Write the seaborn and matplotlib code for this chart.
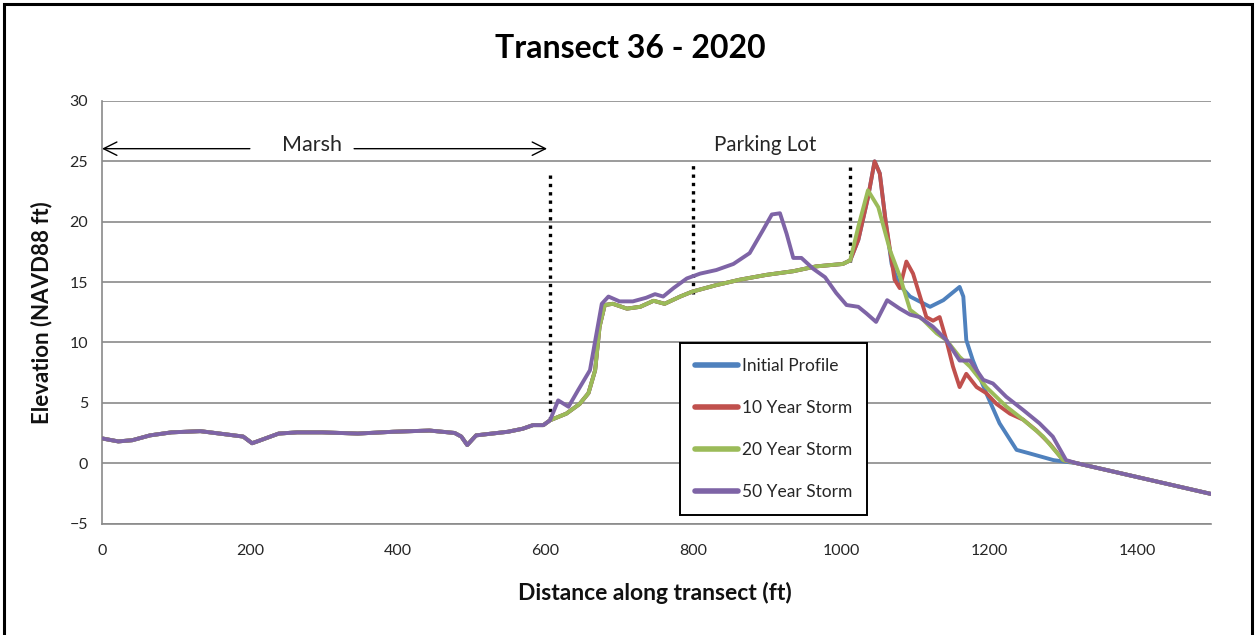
import numpy as np
import pandas as pd
import matplotlib
matplotlib.use("Agg")
import matplotlib.pyplot as plt
from matplotlib.patches import Rectangle
from matplotlib.lines import Line2D
import seaborn as sns

# ---- profile data (distance ft, elevation ft NAVD88) ----
# marsh segment shared by all profiles
marsh_x = [0, 22, 41, 65, 94, 133, 172, 191, 203, 210, 239, 264, 298, 346, 394,
           443, 477, 486, 494, 506, 549, 569, 583, 597, 606]
marsh_y = [2.05, 1.8, 1.9, 2.3, 2.55, 2.65, 2.35, 2.2, 1.65, 1.8, 2.45, 2.55, 2.55,
           2.45, 2.6, 2.7, 2.5, 2.2, 1.5, 2.3, 2.6, 2.85, 3.15, 3.15, 3.55]

# parking lot segment shared by initial, 10 yr and 20 yr profiles
lot_x = [628, 646, 658, 667, 673, 680, 691, 710, 728, 746, 761, 782, 798, 831,
         863, 899, 935, 966, 1002, 1012]
lot_y = [4.1, 4.9, 5.8, 7.7, 11.3, 13.1, 13.2, 12.8, 12.95, 13.45, 13.2, 13.8,
         14.2, 14.75, 15.2, 15.6, 15.9, 16.3, 16.5, 16.8]

# seaward slope shared by all profiles
tail_x = [1318, 1500]
tail_y = [0.0, -2.55]

# dune / beach segments
initial_x = [1023, 1036, 1045, 1052, 1060, 1068, 1078, 1093, 1120, 1138, 1160,
             1165, 1169, 1178, 1196, 1214, 1237, 1255, 1287, 1305]
initial_y = [18.5, 22.0, 25.0, 24.0, 20.0, 16.5, 14.8, 13.8, 12.95, 13.5, 14.6,
             13.8, 10.2, 8.5, 5.8, 3.3, 1.1, 0.8, 0.25, 0.1]

storm10_x = [1023, 1036, 1045, 1052, 1060, 1072, 1079, 1088, 1097, 1115, 1124,
             1133, 1142, 1151, 1160, 1169, 1183, 1196, 1210, 1228, 1246, 1264,
             1282, 1300]
storm10_y = [18.5, 22.0, 25.0, 24.0, 20.0, 15.2, 14.5, 16.7, 15.7, 12.1, 11.8,
             12.1, 10.2, 8.0, 6.3, 7.4, 6.3, 5.8, 4.9, 4.1, 3.6, 2.7, 1.6, 0.25]

storm20_x = [1023, 1036, 1050, 1066, 1079, 1093, 1111, 1129, 1142, 1160, 1174,
             1196, 1223, 1246, 1273, 1300]
storm20_y = [19.6, 22.6, 21.2, 17.6, 15.5, 12.7, 11.85, 10.75, 10.2, 8.8, 8.0,
             6.3, 4.7, 3.6, 2.2, 0.25]

storm50_x = [617, 631, 644, 660, 669, 676, 685, 700, 718, 736, 748, 759, 773,
             791, 809, 831, 854, 876, 894, 906, 917, 926, 935, 946, 962, 978,
             993, 1007, 1023, 1034, 1047, 1062, 1079, 1093, 1106, 1124, 1142,
             1160, 1174, 1192, 1205, 1223, 1246, 1268, 1286, 1304]
storm50_y = [5.2, 4.67, 6.05, 7.7, 10.8, 13.2, 13.8, 13.4, 13.4, 13.7, 14.0,
             13.8, 14.5, 15.3, 15.7, 16.0, 16.5, 17.4, 19.3, 20.6, 20.7, 19.0,
             17.0, 17.0, 16.1, 15.4, 14.1, 13.1, 12.95, 12.4, 11.7, 13.5, 12.8,
             12.3, 12.1, 11.3, 10.2, 8.5, 8.5, 6.9, 6.6, 5.5, 4.4, 3.3, 2.2, 0.25]

series_names = ["Initial Profile", "10 Year Storm", "20 Year Storm", "50 Year Storm"]
series_colors = ["#4F81BD", "#C0504D", "#9BBB59", "#7E64A6"]

# section boundary markers (distance, bottom elevation, top elevation)
divider_x = [606, 799, 1012]
divider_bottom = [3.55, 14.0, 16.7]
divider_top = [23.9, 24.7, 24.9]


def build(seg_x, seg_y, shared_lot=True):
    xs = list(marsh_x) + (list(lot_x) if shared_lot else []) + list(seg_x) + list(tail_x)
    ys = list(marsh_y) + (list(lot_y) if shared_lot else []) + list(seg_y) + list(tail_y)
    return xs, ys


frames = []
for name, (sx, sy, lot) in zip(series_names, [(initial_x, initial_y, True),
                                             (storm10_x, storm10_y, True),
                                             (storm20_x, storm20_y, True),
                                             (storm50_x, storm50_y, False)]):
    xs, ys = build(sx, sy, lot)
    frames.append(pd.DataFrame({"distance": xs, "elevation": ys, "profile": name}))
df = pd.concat(frames, ignore_index=True)

# ---- figure ----
sns.set_theme(style="white")
plt.rcParams["font.family"] = ["Lato", "DejaVu Sans"]

W, H = 1257, 635
fig = plt.figure(figsize=(W / 100, H / 100), dpi=100)
ax = fig.add_axes([102 / W, 1 - 523.5 / H, (1211 - 102) / W, (523.5 - 101) / H])

ax.set_xlim(0, 1500)
ax.set_ylim(-5, 30)
ax.set_xticks(np.arange(0, 1401, 200))
ax.set_yticks(np.arange(-5, 31, 5))
ax.yaxis.grid(True, color="#8a8a8a", lw=1.2)
ax.xaxis.grid(False)
ax.set_axisbelow(True)

for side in ["top", "right"]:
    ax.spines[side].set_visible(False)
for side in ["left", "bottom"]:
    ax.spines[side].set_color("#8a8a8a")
    ax.spines[side].set_linewidth(1.2)

ax.tick_params(axis="both", which="major", direction="out", length=5, width=1.0,
               color="#8a8a8a", labelcolor="#262626", labelsize=11.5)
ax.tick_params(axis="x", pad=10)
ax.tick_params(axis="y", pad=5)

# vertical dotted boundary markers
for dx, b, t in zip(divider_x, divider_bottom, divider_top):
    ax.plot([dx, dx], [b, t], color="black", lw=2.4, linestyle=(0, (1, 1.5)),
            dash_capstyle="butt", zorder=2)

sns.lineplot(data=df, x="distance", y="elevation", hue="profile",
             hue_order=series_names, palette=series_colors, estimator=None,
             sort=False, lw=2.8, ax=ax, legend=False, zorder=3)

# annotations
arrow_kw = dict(arrowstyle="->", color="black", lw=1.0, mutation_scale=24,
                shrinkA=0, shrinkB=0)
ax.annotate("", xy=(0, 26.05), xytext=(200, 26.05), arrowprops=arrow_kw)
ax.annotate("", xy=(602, 26.05), xytext=(341, 26.05), arrowprops=arrow_kw)
ax.text(284, 26.35, "Marsh", ha="center", va="center", fontsize=15.5, color="#262626")
ax.text(897, 26.35, "Parking Lot", ha="center", va="center", fontsize=14.8,
        color="#262626")

ax.set_xlabel("Distance along transect (ft)", fontsize=16.5, fontweight="bold",
              color="#111111")
ax.set_ylabel("Elevation (NAVD88 ft)", fontsize=16, fontweight="bold",
              color="#111111")
ax.xaxis.set_label_coords(0.4986, -0.138)
ax.yaxis.set_label_coords(-0.045, 0.5)

fig.text(630 / W, 1 - 48 / H, "Transect 36 - 2020", ha="center", va="center",
         fontsize=23, fontweight="bold", color="black")

handles = [Line2D([0], [0], color=c, lw=4) for c in series_colors]
leg = ax.legend(handles, series_names, loc="upper left",
                bbox_to_anchor=(680 / W, 1 - 343 / H), bbox_transform=fig.transFigure,
                fontsize=12.5, frameon=True, fancybox=False, shadow=False,
                labelspacing=1.5, handlelength=2.5, handletextpad=0.2,
                borderpad=0.85, borderaxespad=0)
leg.get_frame().set_edgecolor("black")
leg.get_frame().set_linewidth(1.4)
leg.get_frame().set_facecolor("white")
leg.get_frame().set_alpha(1.0)
for t in leg.get_texts():
    t.set_color("#262626")

# outer frame
fig.patches.append(Rectangle((4 / W, -0.05), (1252 - 4) / W, 1.05 - 4 / H,
                             transform=fig.transFigure, fill=False,
                             edgecolor="black", lw=2.2))

fig.savefig("out.png", dpi=100)
